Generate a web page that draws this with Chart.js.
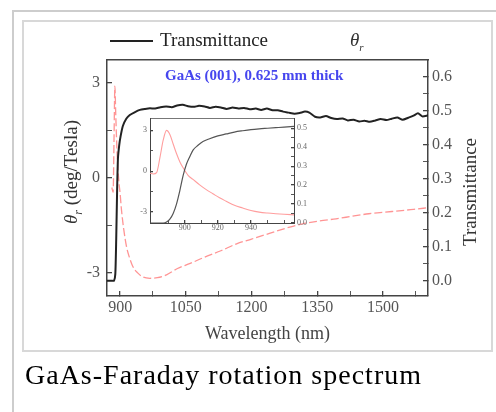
<!DOCTYPE html>
<html>
<head>
<meta charset="utf-8">
<script src="https://cdn.jsdelivr.net/npm/chart.js@4.4.0/dist/chart.umd.min.js"></script>
<style>
  body { margin: 0; width: 496px; height: 412px; overflow: hidden; background: #fff; position: relative;
         font-family: 'Liberation Serif', 'Times New Roman', serif; }
  .outer { position: absolute; left: 12px; top: 10px; width: 520px; height: 440px; border: 2px solid #cdcdcd; }
  .inner { position: absolute; left: 22px; top: 20px; width: 471px; height: 332px; border: 2px solid #d8d8d8; box-sizing: border-box; }
  canvas { position: absolute; }
  #main { left: 0; top: 0; }
  #inset { left: 128px; top: 108px; }
  .legline { position: absolute; left: 110px; top: 40px; width: 43px; height: 2px; background: #222; }
  .legtext { position: absolute; left: 160px; top: 29px; font-size: 19px; line-height: 22px; color: #222; }
  .theta { position: absolute; left: 350px; top: 29px; font-size: 19px; line-height: 22px; color: #333; font-style: italic; }
  .theta sub { font-size: 11px; }
  .note { position: absolute; left: 165px; top: 67px; font-size: 15px; font-weight: bold; color: #4646ee; }
  .ytitle { position: absolute; white-space: nowrap; font-size: 19px; color: #333; transform: translate(-50%, -50%) rotate(-90deg); }
  .caption { position: absolute; left: 25px; top: 359px; font-size: 28px; letter-spacing: 1px; color: #000; white-space: nowrap; }
</style>
</head>
<body>
<div class="outer"></div>
<div class="inner"></div>
<canvas id="main" width="496" height="412"></canvas>
<canvas id="inset" width="190" height="130"></canvas>
<div class="legline"></div>
<div class="legtext">Transmittance</div>
<div class="theta">θ<sub>r</sub></div>
<div class="note">GaAs (001), 0.625 mm thick</div>
<div class="ytitle" style="left:73px; top:172px;"><i>θ</i><sub><i style="font-size:12px">r</i></sub> (deg/Tesla)</div>
<div class="ytitle" style="left:470px; top:192px;">Transmittance</div>
<div class="caption">GaAs-Faraday rotation spectrum</div>
<script>
// main panel: transmittance (right axis)
const transWl = [870, 880, 886, 889, 891, 893, 895, 898, 901, 906, 914, 922, 933, 945, 957, 968, 980, 992,
  1005, 1018, 1030, 1043, 1055, 1068, 1080, 1093, 1105, 1118, 1130, 1143, 1157, 1170, 1183, 1196, 1210,
  1222, 1235, 1248, 1260, 1272, 1285, 1298, 1310, 1322, 1332, 1345, 1357, 1370, 1382, 1395, 1408, 1420,
  1433, 1446, 1458, 1470, 1483, 1495, 1508, 1520, 1533, 1545, 1558, 1570, 1580, 1590, 1603];
const transValue = [0.0, 0.0, 0.0, 0.02, 0.12, 0.26, 0.36, 0.40, 0.425, 0.455, 0.477, 0.488, 0.496, 0.503,
  0.506, 0.508, 0.507, 0.511, 0.513, 0.511, 0.516, 0.518, 0.514, 0.512, 0.515, 0.513, 0.509, 0.512, 0.51,
  0.506, 0.51, 0.507, 0.509, 0.505, 0.507, 0.503, 0.507, 0.502, 0.502, 0.498, 0.495, 0.492, 0.494, 0.498,
  0.495, 0.483, 0.481, 0.485, 0.479, 0.476, 0.478, 0.472, 0.474, 0.469, 0.471, 0.468, 0.472, 0.476, 0.473,
  0.477, 0.481, 0.474, 0.48, 0.486, 0.493, 0.484, 0.487];

// main panel: Faraday rotation (left axis)
const thetaWl = [881, 884, 886, 888, 890, 893, 897, 900, 903, 908, 915, 921, 929, 940, 952, 968, 985,
  1006, 1031, 1060, 1088, 1130, 1166, 1200, 1241, 1280, 1316, 1355, 1393, 1430, 1468, 1505, 1543, 1570, 1603];
const thetaValue = [-0.3, -0.45, 1.2, 2.9, 2.0, 0.8, -0.1, -0.5, -1.0, -1.6, -2.2, -2.5, -2.8, -3.0, -3.13,
  -3.17, -3.15, -3.06, -2.86, -2.7, -2.53, -2.3, -2.08, -1.93, -1.75, -1.58, -1.45, -1.36, -1.29, -1.21,
  -1.13, -1.08, -1.03, -0.99, -0.94];

// inset (zoom on the band edge)
const insetTransWl = [879, 887, 889, 891, 893, 895, 897, 899, 901, 903, 905, 908, 911, 915, 920, 925, 930,
  935, 940, 945, 950, 955, 960, 966];
const insetTransValue = [0.0, 0.0, 0.005, 0.02, 0.05, 0.1, 0.17, 0.25, 0.31, 0.35, 0.385, 0.41, 0.43, 0.445,
  0.46, 0.47, 0.48, 0.487, 0.493, 0.497, 0.5, 0.503, 0.506, 0.51];
const insetThetaWl = [879, 881, 883, 885, 887, 889, 891, 893, 895, 897, 899, 902, 905, 909, 913, 917, 921,
  925, 930, 935, 940, 945, 950, 955, 960, 966];
const insetThetaValue = [-0.15, -0.2, -0.1, 1.0, 2.3, 3.0, 2.7, 2.0, 1.3, 0.7, 0.25, -0.3, -0.6, -1.0, -1.35,
  -1.65, -1.95, -2.2, -2.5, -2.7, -2.88, -3.0, -3.07, -3.12, -3.16, -3.2];

// ticks
const xTicks = [900, 975, 1050, 1125, 1200, 1275, 1350, 1425, 1500, 1575];
const xLabels = [900, 1050, 1200, 1350, 1500];
const thetaTicks = [-3, -1.5, 0, 1.5, 3];
const thetaLabels = [-3, 0, 3];
const transTicks = [0, 0.05, 0.1, 0.15, 0.2, 0.25, 0.3, 0.35, 0.4, 0.45, 0.5, 0.55, 0.6];
const transLabels = [0, 0.1, 0.2, 0.3, 0.4, 0.5, 0.6];
const insetXTicks = [890, 900, 910, 920, 930, 940, 950, 960];
const insetXLabels = [900, 920, 940];
const insetTransTicks = [0, 0.05, 0.1, 0.15, 0.2, 0.25, 0.3, 0.35, 0.4, 0.45, 0.5];

const serif = "'Liberation Serif', 'Times New Roman', serif";
const pts = (xs, ys) => xs.map((x, i) => ({ x: x, y: ys[i] }));
const near = (list, v) => list.some(l => Math.abs(l - v) < 1e-6);

function axis(opts) {
  // inward tick marks, fixed box size, custom tick list
  const s = {
    type: 'linear',
    position: opts.position,
    min: opts.min,
    max: opts.max,
    afterBuildTicks: sc => { sc.ticks = opts.ticks.map(v => ({ value: v })); },
    grid: {
      drawOnChartArea: false,
      tickLength: opts.tickLength,
      color: '#444',
      lineWidth: ctx => (ctx.tick && near(opts.labels, ctx.tick.value)) ? 1.3 : 0.9
    },
    border: { color: '#444', width: opts.borderWidth },
    ticks: {
      padding: opts.padding,
      autoSkip: false,
      maxRotation: 0,
      color: opts.tickColor,
      font: { family: serif, size: opts.fontSize },
      callback: v => near(opts.labels, v) ? opts.fmt(v) : ''
    }
  };
  if (opts.position === 'bottom') s.afterFit = sc => { sc.height = opts.size; };
  else s.afterFit = sc => { sc.width = opts.size; };
  return s;
}

// main chart
new Chart(document.getElementById('main'), {
  type: 'line',
  data: {
    datasets: [
      {
        label: 'Transmittance',
        data: pts(transWl, transValue),
        yAxisID: 'yT',
        borderColor: '#222',
        borderWidth: 2,
        pointRadius: 0,
        tension: 0.2
      },
      {
        label: 'θr',
        data: pts(thetaWl, thetaValue),
        yAxisID: 'yTheta',
        borderColor: '#ff9494',
        borderWidth: 1.3,
        borderDash: [8, 3],
        pointRadius: 0,
        cubicInterpolationMode: 'monotone'
      }
    ]
  },
  options: {
    responsive: false,
    animation: false,
    layout: { padding: { left: 62, right: 15, top: 60, bottom: 67 } },
    plugins: { legend: { display: false }, tooltip: { enabled: false } },
    scales: {
      x: Object.assign(axis({ position: 'bottom', min: 870, max: 1603, ticks: xTicks, labels: xLabels,
        tickLength: -5, padding: 7, size: 412 - 67 - 296, borderWidth: 1.5, tickColor: '#555', fontSize: 16,
        fmt: v => String(v) }), {
        title: { display: true, text: 'Wavelength (nm)', color: '#444', padding: 0,
          font: { family: serif, size: 18, lineHeight: 1.2 } }
      }),
      xTop: {
        type: 'linear', position: 'top', min: 870, max: 1603,
        afterFit: sc => { sc.height = 0; },
        grid: { display: false }, ticks: { display: false },
        border: { color: '#444', width: 1.5 }
      },
      yTheta: axis({ position: 'left', min: -3.73, max: 3.73, ticks: thetaTicks, labels: thetaLabels,
        tickLength: -5, padding: 12, size: 107 - 62, borderWidth: 1.5, tickColor: '#555', fontSize: 16,
        fmt: v => String(v) }),
      yT: axis({ position: 'right', min: -0.045, max: 0.65, ticks: transTicks, labels: transLabels,
        tickLength: -5, padding: 9, size: 496 - 15 - 428, borderWidth: 1.5, tickColor: '#555', fontSize: 16,
        fmt: v => v.toFixed(1) })
    }
  }
});

// inset chart
new Chart(document.getElementById('inset'), {
  type: 'line',
  data: {
    datasets: [
      {
        label: 'Transmittance',
        data: pts(insetTransWl, insetTransValue),
        yAxisID: 'yT',
        borderColor: '#555',
        borderWidth: 1.2,
        pointRadius: 0,
        cubicInterpolationMode: 'monotone'
      },
      {
        label: 'θr',
        data: pts(insetThetaWl, insetThetaValue),
        yAxisID: 'yTheta',
        borderColor: '#ff9e9e',
        borderWidth: 1.1,
        pointRadius: 0,
        cubicInterpolationMode: 'monotone'
      }
    ]
  },
  options: {
    responsive: false,
    animation: false,
    layout: { padding: { left: 0, right: 0, top: 9, bottom: 0 } },
    plugins: { legend: { display: false }, tooltip: { enabled: false } },
    scales: {
      x: axis({ position: 'bottom', min: 879, max: 966, ticks: insetXTicks, labels: insetXLabels,
        tickLength: -3, padding: 3, size: 15, borderWidth: 1, tickColor: '#666', fontSize: 8,
        fmt: v => String(v) }),
      xTop: {
        type: 'linear', position: 'top', min: 879, max: 966,
        afterFit: sc => { sc.height = 0; },
        grid: { display: false }, ticks: { display: false },
        border: { color: '#777', width: 1 }
      },
      yTheta: axis({ position: 'left', min: -3.8, max: 3.85, ticks: thetaTicks, labels: thetaLabels,
        tickLength: -3, padding: 6, size: 22, borderWidth: 1, tickColor: '#666', fontSize: 8,
        fmt: v => String(v) }),
      yT: axis({ position: 'right', min: 0, max: 0.55, ticks: insetTransTicks, labels: transLabels,
        tickLength: -3, padding: 6, size: 24, borderWidth: 1, tickColor: '#666', fontSize: 8,
        fmt: v => v.toFixed(1) })
    }
  }
});
</script>
</body>
</html>
